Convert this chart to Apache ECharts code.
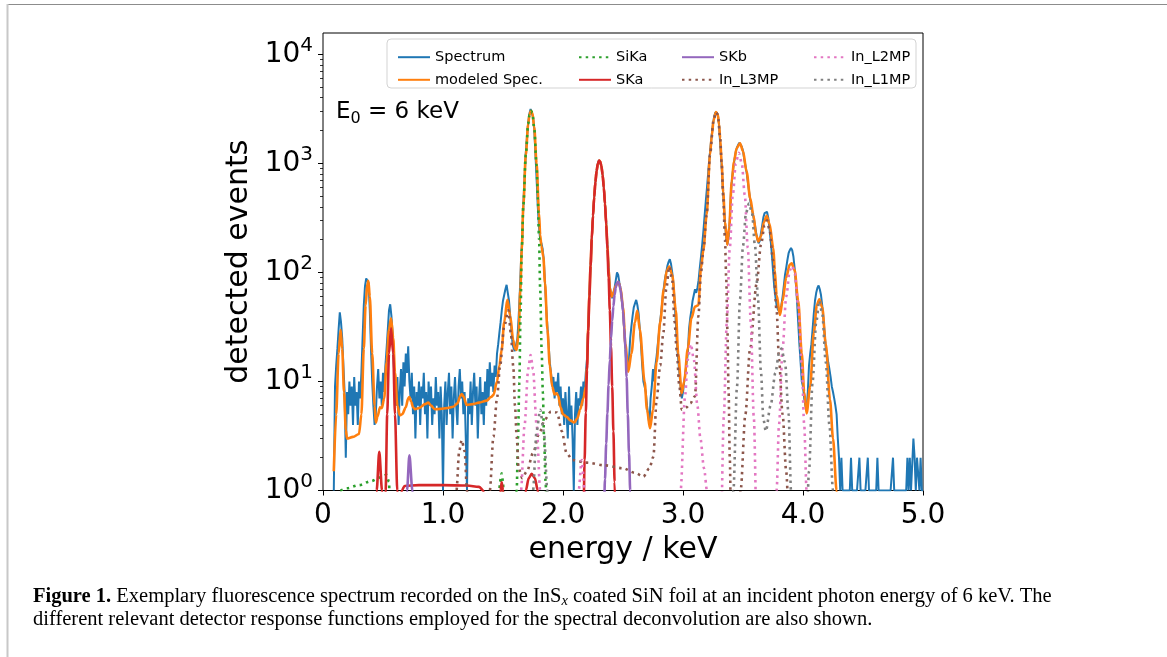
<!DOCTYPE html>
<html>
<head>
<meta charset="utf-8">
<script src="https://cdn.jsdelivr.net/npm/echarts@6/dist/echarts.min.js"></script>
<style>
  html, body { margin: 0; padding: 0; background: #fff; }
  #main { width: 1167px; height: 657px; }
</style>
</head>
<body>
<div id="main"></div>
<script>
// measured spectrum, 0.01 keV bins starting at 0.09 keV
const spectrumStart = 0.09;
const binWidth = 0.01;
const spectrumCounts = [
  1,
  9, 14, 20, 30, 43, 35, 25, 14, 8, 2,
  8, 5, 10, 6, 9, 4, 11, 6, 8, 4,
  10, 7, 12, 25, 50, 75, 88, 90, 80, 45,
  20, 10, 6, 4, 5, 9, 13, 7, 10, 6,
  12, 8, 14, 20, 30, 45, 51, 40, 28, 14,
  9, 6, 11, 4, 8, 13, 6, 15, 9, 18,
  12, 21, 10, 7, 12, 5, 9, 3, 8, 6,
  10, 4, 9, 7, 12, 5, 8, 3, 10, 6,
  9, 4, 7, 5, 11, 6, 8, 3, 9, 5,
  1, 6, 10, 4, 8, 12, 5, 9, 3, 7,
  11, 6, 4, 9, 13, 7, 10, 5, 8, 3,
  1, 7, 5, 10, 4, 8, 12, 6, 9, 3,
  7, 11, 5, 8, 4, 10, 6, 13, 7, 15,
  9, 12, 8, 14, 11, 18, 22, 28, 35, 45,
  55, 62, 70, 77, 65, 55, 40, 30, 22, 20,
  19, 22, 25, 38, 65, 125, 205, 430, 750, 1250,
  1750, 2350, 2850, 3150, 3100, 2650, 2100, 1250, 720, 400,
  260, 200, 185, 165, 130, 80, 48, 32, 22, 15,
  12, 9, 11, 7, 10, 8, 12, 6, 9, 5,
  7, 4, 8, 5, 3, 9, 4, 6, 3, 1,
  5, 8, 4, 7, 6, 9, 6, 10, 8, 12,
  16, 32, 62, 118, 205, 335, 495, 680, 850, 995,
  1070, 1045, 945, 790, 605, 430, 290, 180, 112, 75,
  62, 58, 65, 72, 85, 100, 95, 80, 70, 55,
  45, 30, 20, 13, 14, 16, 25, 32, 40, 48,
  52, 56, 50, 42, 30, 22, 14, 10, 9, 8,
  6, 5, 4, 7, 9, 13, 10, 14, 17, 22,
  28, 36, 45, 58, 72, 88, 100, 115, 125, 132,
  120, 100, 80, 55, 35, 22, 16, 12, 9, 7,
  8, 10, 12, 15, 18, 30, 38, 45, 55, 62,
  70, 65, 72, 85, 110, 140, 180, 240, 330, 450,
  600, 820, 1100, 1450, 1850, 2300, 2700, 2950, 3000, 2800,
  2300, 1500, 1050, 650, 420, 290, 210, 180, 210, 300,
  560, 750, 930, 1100, 1280, 1400, 1480, 1550, 1520, 1420,
  1300, 1100, 960, 830, 680, 560, 460, 400, 350, 310,
  270, 230, 200, 185, 195, 230, 270, 320, 350, 360,
  360, 320, 260, 200, 150, 105, 75, 60, 50, 46,
  44, 46, 50, 60, 75, 95, 110, 130, 150, 160,
  168, 160, 140, 110, 80, 55, 35, 22, 15, 10,
  9, 7, 6, 5.5, 8, 14, 18, 22, 30, 42,
  55, 65, 72, 76, 70, 62, 50, 38, 28, 20,
  18, 15, 13, 11, 9, 8, 7, 6, 5, 3,
  2, 1, 2, 1, 1, 1, 1, 1, 1, 1,
  2, 1, 1, 1, 1, 1, 1, 2, 1, 1,
  1, 1, 1, 1, 2, 1, 1, 1, 1, 1,
  1, 1, 2, 1, 1, 1, 1, 1, 1, 1,
  1, 1, 1, 1, 1, 2, 1, 1, 1, 1,
  1, 1, 1, 1, 1, 1, 1, 2, 1, 2,
  1, 1, 3, 2, 1, 2, 2, 1, 2, 1,
  1
];

// [energy keV, counts]
const modeledSpec = [
  [0.09, 1.5], [0.11, 5], [0.13, 18], [0.147, 29.7], [0.16, 20], [0.175, 8], [0.19, 3.6], [0.2, 3.0],
  [0.25, 3.1], [0.3, 3.3], [0.32, 5], [0.34, 20], [0.355, 50], [0.37, 80], [0.378, 84], [0.39, 60],
  [0.41, 18], [0.43, 6], [0.44, 4.2], [0.455, 4.8], [0.475, 5.8], [0.49, 5.7], [0.51, 7], [0.53, 15],
  [0.55, 30], [0.567, 38], [0.585, 25], [0.6, 12], [0.62, 6], [0.64, 4.9], [0.66, 5.0], [0.69, 5.8],
  [0.71, 7.0], [0.72, 7.2], [0.735, 6.5], [0.75, 5.8], [0.767, 5.56], [0.8, 5.7], [0.85, 6.2],
  [0.878, 6.4], [0.9, 6.0], [0.933, 5.56], [0.98, 5.6], [1.03, 5.7], [1.086, 5.87], [1.12, 6.3],
  [1.145, 7.4], [1.156, 7.68], [1.17, 7.3], [1.197, 6.1], [1.25, 6.2], [1.3, 6.4], [1.364, 6.67],
  [1.4, 7.2], [1.42, 7.5], [1.45, 10], [1.47, 14], [1.489, 19.5], [1.51, 35], [1.536, 56], [1.56, 40],
  [1.585, 24], [1.6, 20], [1.614, 19.5], [1.63, 28], [1.645, 70], [1.656, 161], [1.67, 420],
  [1.69, 1200], [1.71, 2300], [1.72, 2780], [1.733, 3030], [1.745, 2900], [1.76, 2150], [1.78, 1000],
  [1.8, 350], [1.81, 220], [1.82, 175], [1.836, 140], [1.85, 80], [1.87, 30], [1.89, 14], [1.91, 9],
  [1.93, 7.6], [1.947, 7.8], [1.96, 7.4], [1.98, 5.8], [2.0, 5.0], [2.03, 4.75], [2.06, 4.4],
  [2.094, 4.2], [2.12, 4.6], [2.142, 5.5], [2.17, 7], [2.19, 9], [2.2, 14], [2.21, 31], [2.22, 62],
  [2.23, 117], [2.24, 206], [2.25, 332], [2.26, 493], [2.27, 676], [2.28, 852], [2.29, 990],
  [2.303, 1062], [2.31, 1040], [2.32, 944], [2.33, 790], [2.34, 604], [2.35, 430], [2.36, 285],
  [2.37, 180], [2.38, 110], [2.39, 72], [2.406, 60], [2.42, 65], [2.44, 76], [2.461, 82], [2.48, 72],
  [2.5, 48], [2.52, 22], [2.544, 12.3], [2.57, 18], [2.6, 35], [2.619, 44.6], [2.64, 30], [2.68, 10],
  [2.7, 5.5], [2.725, 3.72], [2.75, 5.5], [2.78, 15], [2.81, 35], [2.84, 70], [2.866, 105],
  [2.886, 113], [2.91, 95], [2.94, 45], [2.96, 18], [2.989, 7.8], [3.01, 10], [3.04, 20], [3.07, 38],
  [3.1, 48.6], [3.128, 50], [3.15, 110], [3.17, 161], [3.197, 337], [3.225, 1196], [3.24, 1800],
  [3.255, 2500], [3.275, 2950], [3.29, 2800], [3.3, 2300], [3.31, 1700], [3.322, 1000], [3.335, 550],
  [3.35, 292], [3.369, 179], [3.385, 260], [3.406, 681], [3.425, 1050], [3.447, 1378], [3.475, 1532],
  [3.5, 1300], [3.53, 841], [3.56, 480], [3.586, 337], [3.61, 220], [3.628, 192], [3.65, 215],
  [3.675, 290], [3.697, 330], [3.72, 280], [3.753, 167], [3.765, 105], [3.78, 62], [3.808, 40.7],
  [3.83, 55], [3.86, 90], [3.89, 118], [3.906, 121], [3.93, 105], [3.96, 55], [3.99, 18], [4.01, 8],
  [4.03, 5.1], [4.06, 9], [4.09, 28], [4.115, 50], [4.136, 56.8], [4.16, 48], [4.19, 22],
  [4.225, 6.8], [4.25, 3], [4.28, 1.0], [4.3, 0.5]
];

const siKa = [
  [0.12, 0.5], [0.14, 1.0], [0.2, 1.05], [0.3, 1.12], [0.4, 1.22], [0.48, 1.32], [0.53, 1.39],
  [0.55, 1.2], [0.56, 0.5],
  [1.46, 0.5], [1.475, 1.2], [1.489, 1.44], [1.5, 1.2], [1.51, 0.5],
  [1.6, 0.5], [1.614, 1.0], [1.625, 3], [1.636, 9.6], [1.646, 40], [1.656, 161], [1.67, 420],
  [1.69, 1200], [1.71, 2300], [1.72, 2780], [1.733, 3030], [1.745, 2900], [1.76, 2100], [1.78, 950],
  [1.79, 480], [1.8, 210], [1.81, 70], [1.822, 19.5], [1.832, 8], [1.842, 3.1], [1.855, 1.2],
  [1.865, 0.5]
];

const sKa = [
  [0.44, 0.5], [0.447, 1.0], [0.469, 2.27], [0.492, 1.0], [0.5, 0.5],
  [0.515, 0.5], [0.522, 1.0], [0.535, 5], [0.55, 18], [0.567, 30.8], [0.585, 18], [0.6, 5],
  [0.619, 1.0], [0.63, 0.5],
  [0.645, 0.5], [0.656, 1.0], [0.68, 1.1], [0.8, 1.12], [1.0, 1.12], [1.2, 1.11], [1.3, 1.08],
  [1.336, 1.0], [1.35, 0.5],
  [1.47, 0.5], [1.48, 1.0], [1.489, 1.19], [1.5, 1.0], [1.51, 0.5],
  [1.68, 0.5], [1.69, 1.0], [1.715, 1.3], [1.739, 1.42], [1.765, 1.3], [1.79, 1.0], [1.8, 0.5],
  [2.17, 0.5], [2.18, 1.9], [2.19, 5.2], [2.2, 12.7], [2.21, 29], [2.22, 60], [2.23, 115],
  [2.24, 204], [2.25, 330], [2.26, 491], [2.27, 674], [2.28, 851], [2.29, 990], [2.3, 1060],
  [2.31, 1040], [2.32, 942], [2.33, 787], [2.34, 600], [2.35, 423], [2.36, 275], [2.37, 164],
  [2.38, 90], [2.39, 45], [2.4, 21], [2.41, 9], [2.42, 3.5], [2.43, 1.2], [2.44, 0.4]
];

const sKb = [
  [0.69, 0.5], [0.7, 1.0], [0.72, 2.1], [0.745, 1.0], [0.755, 0.5],
  [2.34, 0.57], [2.35, 1.27], [2.36, 2.7], [2.37, 5.1], [2.38, 9.3], [2.39, 15.7], [2.4, 24.7],
  [2.41, 36], [2.42, 49], [2.43, 62], [2.44, 73], [2.45, 80], [2.46, 82], [2.47, 78], [2.48, 69],
  [2.49, 57], [2.5, 44], [2.51, 31], [2.52, 20], [2.53, 11], [2.54, 5], [2.55, 2.2], [2.56, 1.0],
  [2.57, 0.4]
];

const inL3MP = [
  [1.1, 0.5], [1.112, 1.0], [1.135, 2.3], [1.156, 2.9], [1.18, 2.3], [1.2, 1.0], [1.21, 0.5],
  [1.38, 0.5], [1.39, 1.0], [1.42, 3.1], [1.45, 7], [1.475, 13.7], [1.51, 32], [1.545, 45],
  [1.565, 28], [1.586, 13.7], [1.6, 6], [1.614, 3.1], [1.63, 1.6], [1.66, 1.3], [1.7, 1.5],
  [1.75, 2.2], [1.8, 3.3], [1.85, 4.5], [1.9, 5.3], [1.95, 5.2], [1.99, 3.5], [2.03, 2.2],
  [2.08, 1.9], [2.2, 1.8], [2.35, 1.7], [2.5, 1.6], [2.6, 1.45], [2.67, 1.34], [2.72, 1.6],
  [2.753, 2.04], [2.78, 6.8], [2.81, 14], [2.836, 27.7], [2.86, 70], [2.886, 113], [2.91, 85],
  [2.93, 35], [2.947, 19.5], [2.97, 9], [2.99, 5.5], [3.03, 5.8], [3.06, 6.3], [3.1, 7.3],
  [3.128, 39.4], [3.15, 100], [3.17, 161], [3.197, 337], [3.225, 1196], [3.255, 2500],
  [3.275, 2950], [3.29, 2800], [3.31, 1700], [3.322, 1000], [3.335, 500], [3.35, 200], [3.36, 90],
  [3.37, 30], [3.38, 8], [3.39, 2], [3.4, 0.5],
  [3.47, 0.5], [3.48, 1.0], [3.52, 5], [3.558, 19.5], [3.614, 79], [3.65, 180], [3.68, 270],
  [3.7, 300], [3.72, 250], [3.75, 130], [3.78, 45], [3.8, 16], [3.83, 5], [3.86, 1.5], [3.88, 0.5]
];

const inL2MP = [
  [1.64, 0.5], [1.65, 1.0], [1.68, 4], [1.71, 13], [1.73, 17.5], [1.75, 13], [1.78, 4], [1.81, 1.0],
  [1.82, 0.5],
  [2.12, 0.5], [2.13, 1.0], [2.156, 1.9], [2.18, 1.0], [2.19, 0.5],
  [2.97, 0.5], [2.98, 1.0], [3.017, 7.3], [3.04, 16], [3.065, 22], [3.09, 16], [3.12, 6],
  [3.145, 3], [3.175, 1.6], [3.2, 1.0], [3.21, 0.5],
  [3.315, 0.4], [3.34, 4.7], [3.365, 35], [3.39, 168], [3.415, 512], [3.44, 1000], [3.465, 1250],
  [3.49, 1000], [3.515, 512], [3.54, 168], [3.565, 35], [3.59, 4.7], [3.615, 0.4],
  [3.76, 0.5], [3.78, 1.0], [3.8, 4], [3.83, 20], [3.86, 60], [3.89, 105], [3.91, 115], [3.93, 98],
  [3.96, 50], [3.99, 14], [4.01, 4], [4.03, 1.0], [4.04, 0.5]
];

const inL1MP = [
  [1.74, 0.5], [1.75, 1.0], [1.78, 3.5], [1.81, 5.5], [1.84, 3.5], [1.87, 1.0], [1.88, 0.5],
  [3.41, 0.5], [3.42, 1.0], [3.45, 9], [3.475, 57], [3.5, 175], [3.525, 350], [3.55, 430],
  [3.575, 350], [3.6, 175], [3.625, 57], [3.65, 12], [3.67, 4.5], [3.69, 3.5], [3.73, 6], [3.77, 12],
  [3.8, 18], [3.82, 20], [3.85, 15], [3.88, 5], [3.9, 1.0], [3.91, 0.5],
  [4.03, 0.5], [4.05, 1.5], [4.08, 10], [4.11, 35], [4.136, 55], [4.16, 42], [4.19, 15], [4.22, 4],
  [4.25, 1.0], [4.26, 0.5]
];

const xTicks = [0, 1, 2, 3, 4, 5];
const yMajorTicks = [1, 10, 100, 1000, 10000];
const yMinorTicks = [
  2, 3, 4, 5, 6, 7, 8, 9,
  20, 30, 40, 50, 60, 70, 80, 90,
  200, 300, 400, 500, 600, 700, 800, 900,
  2000, 3000, 4000, 5000, 6000, 7000, 8000, 9000
];

const FONT = "DejaVu Sans";
const SERIF = "Liberation Serif";
const DOTS = [2.5, 4.2];

const spectrumData = spectrumCounts.map((v, i) => [
  +(spectrumStart + i * binWidth).toFixed(2),
  v,
]);

function makeLine(name, data, color, dotted, width, smooth) {
  return {
    name: name,
    type: "line",
    data: data,
    symbol: "none",
    smooth: smooth ? 0.3 : false,
    smoothMonotone: "x",
    clip: true,
    animation: false,
    silent: true,
    lineStyle: {
      color: color,
      width: width,
      type: dotted ? DOTS : "solid",
      cap: "butt",
    },
    itemStyle: { color: color },
  };
}

const series = [
  makeLine("Spectrum", spectrumData, "#1f77b4", false, 2, false),
  makeLine("modeled Spec.", modeledSpec, "#ff7f0e", false, 2.6, true),
  makeLine("SiKa", siKa, "#2ca02c", true, 2.6, true),
  makeLine("SKa", sKa, "#d62728", false, 2.6, true),
  makeLine("SKb", sKb, "#9467bd", false, 2.6, true),
  makeLine("In_L3MP", inL3MP, "#8c564b", true, 2.6, true),
  makeLine("In_L2MP", inL2MP, "#e377c2", true, 2.6, true),
  makeLine("In_L1MP", inL1MP, "#7f7f7f", true, 2.6, true),
];

const legendCols = [
  ["Spectrum", "modeled Spec."],
  ["SiKa", "SKa"],
  ["SKb", "In_L3MP"],
  ["In_L2MP", "In_L1MP"],
];
const legendLeft = [392, 573, 676, 808];

const yMax = 15700;

const option = {
  backgroundColor: "#fff",
  animation: false,
  textStyle: { fontFamily: FONT, color: "#000" },
  grid: {
    left: 323,
    top: 33,
    width: 600,
    height: 457.5,
    show: true,
    borderColor: "#000",
    borderWidth: 1,
    backgroundColor: "transparent",
  },
  legend: legendCols.map((names, i) => ({
    data: names,
    left: legendLeft[i],
    top: 44.7,
    orient: "vertical",
    itemWidth: 32,
    itemHeight: 14,
    itemGap: 7.6,
    selectedMode: false,
    z: 5,
    // line series draw a circle in the legend icon; hide it, keep the line
    itemStyle: { opacity: 0 },
    textStyle: {
      fontFamily: FONT,
      fontSize: 14.5,
      color: "#000",
    },
  })),
  xAxis: {
    type: "value",
    min: 0,
    max: 5,
    interval: 1,
    name: "energy / keV",
    nameLocation: "middle",
    nameGap: 45,
    nameTextStyle: { fontFamily: FONT, fontSize: 30, color: "#000" },
    axisLine: { show: false },
    splitLine: { show: false },
    axisTick: {
      show: true,
      length: 5,
      customValues: xTicks,
      lineStyle: { color: "#000", width: 1 },
    },
    axisLabel: {
      customValues: xTicks,
      margin: 11,
      fontFamily: FONT,
      fontSize: 28,
      color: "#000",
      formatter: (v) => (v === 0 ? "0" : v.toFixed(1)),
    },
  },
  yAxis: [
    {
      type: "log",
      logBase: 10,
      min: 1,
      max: yMax,
      position: "left",
      name: "detected events",
      nameLocation: "middle",
      nameGap: 68,
      nameTextStyle: { fontFamily: FONT, fontSize: 30, color: "#000" },
      axisLine: { show: false },
      splitLine: { show: false },
      axisTick: {
        show: true,
        length: 5,
        customValues: yMajorTicks,
        lineStyle: { color: "#000", width: 1 },
      },
      axisLabel: {
        customValues: yMajorTicks,
        margin: 10,
        formatter: (v) => "{b|10}{s|" + Math.round(Math.log10(v)) + "}",
        rich: {
          b: { fontFamily: FONT, fontSize: 28, lineHeight: 38, color: "#000" },
          s: {
            fontFamily: FONT,
            fontSize: 20,
            lineHeight: 20,
            verticalAlign: "top",
            color: "#000",
          },
        },
      },
    },
    {
      type: "log",
      logBase: 10,
      min: 1,
      max: yMax,
      position: "left",
      axisLine: { show: false },
      splitLine: { show: false },
      axisTick: {
        show: true,
        length: 3,
        customValues: yMinorTicks,
        lineStyle: { color: "#000", width: 0.8 },
      },
      axisLabel: { show: false },
    },
  ],
  graphic: [
    {
      type: "line",
      shape: { x1: 7, y1: 4.5, x2: 1167, y2: 4.5 },
      style: { stroke: "#8c8c8c", lineWidth: 1 },
      silent: true,
    },
    {
      type: "line",
      shape: { x1: 7.5, y1: 4, x2: 7.5, y2: 657 },
      style: { stroke: "#c8c8c8", lineWidth: 2 },
      silent: true,
    },
    {
      type: "rect",
      shape: { x: 387, y: 39, width: 529, height: 49, r: 4 },
      style: { fill: "rgba(255,255,255,0.85)", stroke: "#d3d3d3", lineWidth: 1 },
      z: 3,
      silent: true,
    },
    {
      type: "text",
      x: 336,
      y: 98.5,
      z: 5,
      silent: true,
      style: {
        text: "E{sub|0} = 6 keV",
        fontFamily: FONT,
        fontSize: 23,
        lineHeight: 28,
        fill: "#000",
        verticalAlign: "top",
        rich: {
          sub: { fontFamily: FONT, fontSize: 16, lineHeight: 16, verticalAlign: "bottom", fill: "#000" },
        },
      },
    },
    {
      type: "text",
      x: 33,
      y: 585,
      silent: true,
      style: {
        text:
          "{b|Figure 1.} Exemplary fluorescence spectrum recorded on the InS{i|x} coated SiN foil at an incident photon energy of 6 keV. The",
        fontFamily: SERIF,
        fontSize: 20.5,
        lineHeight: 24,
        fill: "#000",
        verticalAlign: "top",
        rich: {
          b: { fontFamily: SERIF, fontSize: 20.5, lineHeight: 24, fontWeight: "bold", fill: "#000" },
          i: {
            fontFamily: SERIF,
            fontSize: 14.5,
            lineHeight: 14,
            fontStyle: "italic",
            verticalAlign: "bottom",
            fill: "#000",
          },
        },
      },
    },
    {
      type: "text",
      x: 33,
      y: 608,
      silent: true,
      style: {
        text:
          "different relevant detector response functions employed for the spectral deconvolution are also shown.",
        fontFamily: SERIF,
        fontSize: 20.5,
        lineHeight: 24,
        fill: "#000",
        verticalAlign: "top",
      },
    },
  ],
  series: series,
};

const myChart = echarts.init(document.getElementById("main"), null, { renderer: "canvas" });
myChart.setOption(option);
</script>
</body>
</html>
